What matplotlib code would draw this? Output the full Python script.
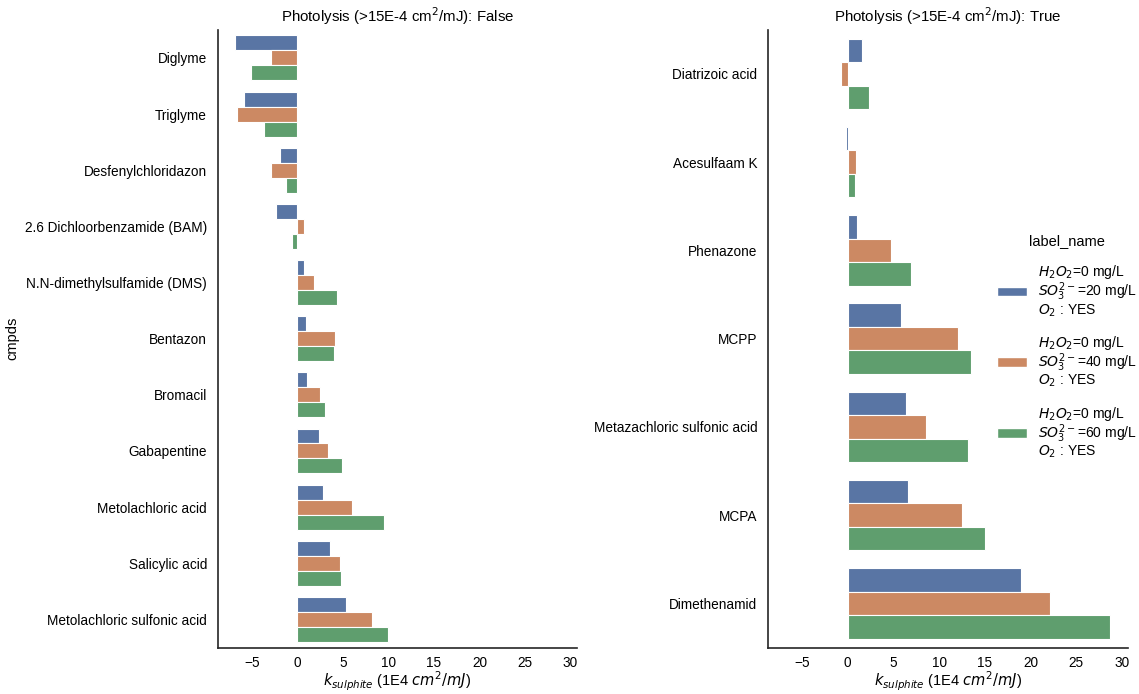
import numpy as np
import matplotlib
matplotlib.use("Agg")
import matplotlib.pyplot as plt
from matplotlib.patches import Patch

plt.rcParams['font.family'] = ['Liberation Sans', 'DejaVu Sans']

# ----------------------------------
# DATA
# ----------------------------------
cmpds_false = ["Diglyme", "Triglyme", "Desfenylchloridazon",
               "2.6 Dichloorbenzamide (BAM)", "N.N-dimethylsulfamide (DMS)",
               "Bentazon", "Bromacil", "Gabapentine", "Metolachloric acid",
               "Salicylic acid", "Metolachloric sulfonic acid"]
so3_20_false = [-6.8, -5.9, -1.9, -2.3, 0.7, 1.0, 1.05, 2.35, 2.8, 3.55, 5.3]
so3_40_false = [-2.9, -6.6, -2.9, 0.7, 1.8, 4.1, 2.45, 3.4, 6.05, 4.65, 8.2]
so3_60_false = [-5.1, -3.7, -1.2, -0.55, 4.35, 4.0, 3.05, 4.95, 9.5, 4.8, 9.95]

cmpds_true = ["Diatrizoic acid", "Acesulfaam K", "Phenazone", "MCPP",
              "Metazachloric sulfonic acid", "MCPA", "Dimethenamid"]
so3_20_true = [1.6, -0.2, 1.0, 5.8, 6.4, 6.6, 18.95]
so3_40_true = [-0.7, 0.9, 4.7, 12.1, 8.55, 12.5, 22.1]
so3_60_true = [2.35, 0.8, 6.95, 13.45, 13.2, 15.0, 28.7]

hue_labels = ["$H_2O_2$=0 mg/L\n$SO_3^{2-}$=20 mg/L\n$O_2$ : YES",
              "$H_2O_2$=0 mg/L\n$SO_3^{2-}$=40 mg/L\n$O_2$ : YES",
              "$H_2O_2$=0 mg/L\n$SO_3^{2-}$=60 mg/L\n$O_2$ : YES"]
# seaborn "deep" at saturation 0.75
colors = ["#5975A4", "#CC8963", "#5F9E6E"]

# ----------------------------------
# PLOT
# ----------------------------------
fig = plt.figure(figsize=(11.39, 6.94), dpi=100)
ax1 = fig.add_axes([0.1915, 0.067, 0.315, 0.89])
ax2 = fig.add_axes([0.6745, 0.067, 0.316, 0.89])


def draw_panel(ax, cats, series, title):
    y = np.arange(len(cats))
    w = 0.8 / len(series)
    for i, vals in enumerate(series):
        ax.barh(y - 0.4 + w * (i + 0.5), vals, height=w, color=colors[i],
                edgecolor="white", linewidth=0.8)
    ax.set_yticks(y)
    ax.set_yticklabels(cats, fontsize=9.8)
    ax.set_ylim(len(cats) - 0.5, -0.5)
    ax.set_xlim(-8.7, 30.7)
    ax.set_xticks([-5, 0, 5, 10, 15, 20, 25, 30])
    ax.tick_params(axis="x", labelsize=9.8, length=0, pad=6)
    ax.tick_params(axis="y", length=0, pad=8)
    ax.set_xlabel("$k_{sulphite}$ (1E4 $cm^2/mJ$)", fontsize=10.5, labelpad=0)
    ax.set_title(title, fontsize=10.8, pad=6)
    for s in ["top", "right"]:
        ax.spines[s].set_visible(False)
    for s in ["left", "bottom"]:
        ax.spines[s].set_linewidth(1.2)
        ax.spines[s].set_color("#262626")


draw_panel(ax1, cmpds_false, [so3_20_false, so3_40_false, so3_60_false],
           "Photolysis (>15E-4 cm$^2$/mJ): False")
draw_panel(ax2, cmpds_true, [so3_20_true, so3_40_true, so3_60_true],
           "Photolysis (>15E-4 cm$^2$/mJ): True")
ax1.set_ylabel("cmpds", fontsize=10.5)

handles = [Patch(facecolor=c, edgecolor="white") for c in colors]
leg = fig.legend(handles, hue_labels, title="label_name", loc="center left",
                 bbox_to_anchor=(0.864, 0.5), frameon=False, fontsize=10,
                 title_fontsize=10.5, labelspacing=1.1, handlelength=2.2)
for t in leg.get_texts():
    t.set_linespacing(0.95)

plt.savefig("out.png", dpi=100)
